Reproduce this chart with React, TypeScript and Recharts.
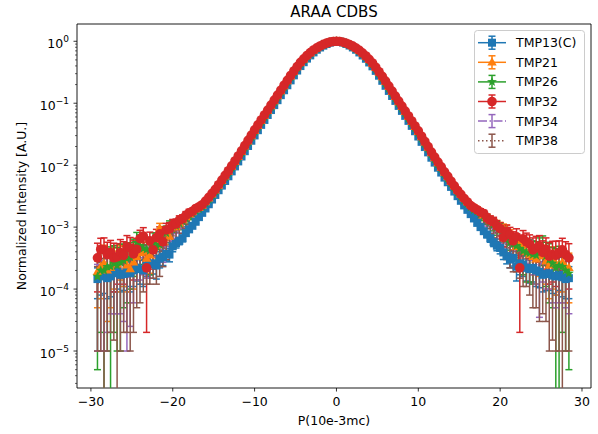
import React from 'react';
import { LineChart, Line, XAxis, YAxis, ErrorBar, ReferenceArea } from 'recharts';

// momentum axis, units of 10e-3 m0c
const xValues = [
  -29.2, -28.8, -28.4, -28.0, -27.6, -27.2, -26.8, -26.4, -26.0, -25.6, -25.2, -24.8, -24.4, -24.0, -23.6,
  -23.2, -22.8, -22.4, -22.0, -21.6, -21.2, -20.8, -20.4, -20.0, -19.6, -19.2, -18.8, -18.4, -18.0,
  -17.6, -17.2, -16.8, -16.4, -16.0, -15.6, -15.2, -14.8, -14.4, -14.0, -13.6, -13.2, -12.8, -12.4, -12.0,
  -11.6, -11.2, -10.8, -10.4, -10.0, -9.6, -9.2, -8.8, -8.4, -8.0, -7.6, -7.2, -6.8, -6.4, -6.0,
  -5.6, -5.2, -4.8, -4.4, -4.0, -3.6, -3.2, -2.8, -2.4, -2.0, -1.6, -1.2, -0.8, -0.4,
  0,
  0.4, 0.8, 1.2, 1.6, 2.0, 2.4, 2.8, 3.2, 3.6, 4.0, 4.4, 4.8, 5.2, 5.6, 6.0,
  6.4, 6.8, 7.2, 7.6, 8.0, 8.4, 8.8, 9.2, 9.6, 10.0, 10.4, 10.8, 11.2, 11.6, 12.0,
  12.4, 12.8, 13.2, 13.6, 14.0, 14.4, 14.8, 15.2, 15.6, 16.0, 16.4, 16.8, 17.2, 17.6,
  18.0, 18.4, 18.8, 19.2, 19.6, 20.0, 20.4, 20.8, 21.2, 21.6, 22.0, 22.4, 22.8, 23.2, 23.6,
  24.0, 24.4, 24.8, 25.2, 25.6, 26.0, 26.4, 26.8, 27.2, 27.6, 28.0, 28.4,
];

const tmp13 = [
  1.45e-4, 1.6e-4, 1.7e-4, 1.5e-4, 1.6e-4, 1.8e-4, 1.9e-4, 1.7e-4, 1.75e-4, 1.95e-4, 1.8e-4, 2.0e-4, 2.2e-4, 2.1e-4, 2.0e-4,
  2.4e-4, 2.5e-4, 2.6e-4, 2.4e-4, 3.1e-4, 3.3e-4, 3.7e-4, 3.6e-4, 4.9e-4, 5.5e-4, 6.0e-4, 6.6e-4, 8.0e-4, 9.2e-4,
  1.05e-3, 1.22e-3, 1.45e-3, 1.7e-3, 2.0e-3, 2.34e-3, 2.79e-3, 3.31e-3, 3.94e-3, 4.68e-3, 5.56e-3, 6.61e-3, 7.94e-3, 9.55e-3, 0.0115,
  0.0138, 0.0168, 0.0204, 0.0248, 0.0302, 0.0367, 0.0447, 0.0537, 0.0646, 0.0776, 0.0933, 0.112, 0.135, 0.162, 0.195,
  0.234, 0.282, 0.337, 0.398, 0.459, 0.525, 0.592, 0.661, 0.73, 0.794, 0.851, 0.902, 0.951, 0.986,
  1.0,
  0.988, 0.955, 0.906, 0.853, 0.795, 0.73, 0.66, 0.59, 0.522, 0.455, 0.394, 0.333, 0.278, 0.23, 0.191,
  0.158, 0.131, 0.109, 0.0905, 0.0752, 0.0625, 0.0519, 0.0431, 0.0353, 0.029, 0.0238, 0.0196, 0.0161, 0.0132, 0.011,
  0.0091, 0.0076, 0.0063, 0.0053, 0.00446, 0.00375, 0.00316, 0.00266, 0.00224, 0.0019, 0.00162, 0.00138, 0.00117, 1.0e-3,
  8.6e-4, 7.6e-4, 6.6e-4, 5.7e-4, 5.0e-4, 4.6e-4, 3.9e-4, 3.4e-4, 3.0e-4, 3.2e-4, 2.3e-4, 2.6e-4, 2.5e-4, 2.2e-4, 2.1e-4,
  2.2e-4, 2.0e-4, 1.9e-4, 1.7e-4, 1.75e-4, 1.8e-4, 1.65e-4, 1.6e-4, 1.7e-4, 1.55e-4, 1.45e-4, 1.5e-4,
];
const tmp21 = [
  1.9e-4, 2.3e-4, 2.6e-4, 2.0e-4, 2.2e-4, 2.8e-4, 2.5e-4, 3.2e-4, 3.0e-4, 2.4e-4, 2.1e-4, 2.7e-4, 3.3e-4, 3.8e-4, 4.0e-4,
  3.1e-4, 3.5e-4, 4.6e-4, 5.0e-4, 9.6e-4, 8.5e-4, 8.0e-4, 7.0e-4, 1.0e-3, 1.0e-3, 1.15e-3, 1.3e-3, 1.45e-3, 1.6e-3,
  1.74e-3, 1.93e-3, 2.05e-3, 2.22e-3, 2.54e-3, 2.91e-3, 3.39e-3, 3.93e-3, 4.67e-3, 5.55e-3, 6.6e-3, 7.85e-3, 9.43e-3, 0.0113, 0.0136,
  0.0164, 0.02, 0.0242, 0.0294, 0.0359, 0.0431, 0.0518, 0.0623, 0.0749, 0.09, 0.108, 0.13, 0.157, 0.189, 0.227,
  0.272, 0.322, 0.381, 0.446, 0.51, 0.578, 0.646, 0.715, 0.777, 0.835, 0.886, 0.929, 0.966, 0.99,
  1.0,
  0.989, 0.963, 0.926, 0.882, 0.829, 0.77, 0.707, 0.637, 0.569, 0.5, 0.437, 0.372, 0.313, 0.264, 0.22,
  0.183, 0.152, 0.126, 0.104, 0.0869, 0.0722, 0.06, 0.0499, 0.0415, 0.0345, 0.0283, 0.0233, 0.0192, 0.0157, 0.013,
  0.0108, 0.0091, 0.0076, 0.0064, 0.0054, 0.0046, 0.0039, 0.00338, 0.0029, 0.00252, 0.0023, 0.0021, 0.00195, 0.0018,
  1.55e-3, 1.45e-3, 1.3e-3, 1.2e-3, 1.1e-3, 1.0e-3, 9.5e-4, 9.0e-4, 7.5e-4, 6.0e-4, 4.8e-4, 5.5e-4, 5.2e-4, 4.0e-4, 3.6e-4,
  3.3e-4, 3.0e-4, 3.5e-4, 3.4e-4, 2.8e-4, 2.4e-4, 2.9e-4, 2.6e-4, 2.5e-4, 2.7e-4, 2.3e-4, 2.2e-4,
];
const tmp26 = [
  1.6e-4, 2.0e-4, 2.0e-4, 2.3e-4, 2.3e-4, 2.6e-4, 2.4e-4, 2.7e-4, 2.9e-4, 3.1e-4, 3.3e-4, 4.0e-4, 5.6e-4, 5.0e-4, 4.5e-4,
  4.4e-4, 4.2e-4, 5.5e-4, 4.8e-4, 5.2e-4, 6.0e-4, 8.0e-4, 1.0e-3, 1.05e-3, 1.05e-3, 1.15e-3, 1.25e-3, 1.4e-3, 1.55e-3,
  1.7e-3, 1.85e-3, 1.97e-3, 2.15e-3, 2.45e-3, 2.8e-3, 3.26e-3, 3.78e-3, 4.5e-3, 5.35e-3, 6.36e-3, 7.56e-3, 9.1e-3, 0.0109, 0.0131,
  0.0158, 0.0193, 0.0234, 0.0284, 0.0346, 0.0416, 0.05, 0.0601, 0.0722, 0.0868, 0.104, 0.126, 0.151, 0.182, 0.219,
  0.263, 0.312, 0.37, 0.434, 0.497, 0.564, 0.632, 0.703, 0.766, 0.826, 0.878, 0.924, 0.962, 0.988,
  1.0,
  0.987, 0.96, 0.92, 0.874, 0.82, 0.76, 0.694, 0.624, 0.555, 0.486, 0.422, 0.358, 0.3, 0.252, 0.21,
  0.174, 0.145, 0.12, 0.0995, 0.0828, 0.0688, 0.0572, 0.0476, 0.0396, 0.0329, 0.027, 0.0222, 0.0183, 0.015, 0.0124,
  0.0103, 0.0087, 0.0072, 0.0061, 0.0051, 0.0043, 0.00365, 0.00315, 0.0027, 0.00237, 0.0021, 0.0019, 0.00178, 0.00162,
  1.5e-3, 1.35e-3, 1.2e-3, 1.1e-3, 9.8e-4, 9.0e-4, 8.0e-4, 6.5e-4, 5.6e-4, 5.3e-4, 5.0e-4, 4.5e-4, 4.1e-4, 3.9e-4, 3.8e-4,
  3.6e-4, 3.5e-4, 4.2e-4, 4.8e-4, 3.4e-4, 3.0e-4, 2.6e-4, 2.2e-4, 2.4e-4, 2.3e-4, 2.0e-4, 1.8e-4,
];
const tmp32 = [
  3.2e-4, 4.4e-4, 4.3e-4, 3.6e-4, 3.9e-4, 3.2e-4, 3.3e-4, 3.9e-4, 3.5e-4, 4.8e-4, 4.6e-4, 3.7e-4, 4.4e-4, 6.5e-4, 7.2e-4,
  2.2e-4, 6.0e-4, 4.3e-4, 6.8e-4, 7.8e-4, 5.8e-4, 9.0e-4, 9.4e-4, 1.1e-3, 1.12e-3, 1.3e-3, 1.36e-3, 1.55e-3, 1.7e-3,
  1.8e-3, 2.0e-3, 2.12e-3, 2.3e-3, 2.63e-3, 3.02e-3, 3.51e-3, 4.07e-3, 4.84e-3, 5.75e-3, 6.84e-3, 8.13e-3, 9.77e-3, 0.0117, 0.0141,
  0.017, 0.0207, 0.0251, 0.0305, 0.0372, 0.0447, 0.0537, 0.0646, 0.0776, 0.0933, 0.112, 0.135, 0.162, 0.195, 0.234,
  0.28, 0.331, 0.391, 0.457, 0.521, 0.589, 0.656, 0.724, 0.785, 0.841, 0.891, 0.933, 0.968, 0.991,
  1.0,
  0.993, 0.966, 0.93, 0.886, 0.834, 0.776, 0.714, 0.646, 0.578, 0.51, 0.446, 0.381, 0.322, 0.272, 0.227,
  0.189, 0.157, 0.13, 0.108, 0.09, 0.0748, 0.0622, 0.0517, 0.043, 0.0358, 0.0293, 0.0241, 0.0199, 0.0163, 0.0135,
  0.0112, 0.0094, 0.0078, 0.0066, 0.0055, 0.00465, 0.0039, 0.00338, 0.0029, 0.00255, 0.00222, 0.00205, 0.0019, 0.00175,
  1.65e-3, 1.4e-3, 1.28e-3, 1.22e-3, 1.05e-3, 9.5e-4, 6.8e-4, 8.6e-4, 7.6e-4, 6.0e-4, 7.0e-4, 2.2e-4, 6.5e-4, 5.8e-4, 5.3e-4,
  4.3e-4, 4.6e-4, 5.0e-4, 3.9e-4, 4.4e-4, 3.4e-4, 3.6e-4, 3.5e-4, 3.8e-4, 4.3e-4, 3.6e-4, 3.2e-4,
];
const tmp34 = [
  1.3e-4, 1.5e-4, 1.6e-4, 1.8e-4, 1.9e-4, 2.0e-4, 2.1e-4, 1.9e-4, 1.7e-4, 1.6e-4, 1.5e-4, 2.2e-4, 2.9e-4, 3.1e-4, 3.3e-4,
  3.0e-4, 3.1e-4, 4.0e-4, 5.0e-4, 4.6e-4, 4.2e-4, 5.5e-4, 6.6e-4, 7.5e-4, 8.2e-4, 9.5e-4, 1.1e-3, 1.15e-3, 1.25e-3,
  1.62e-3, 1.8e-3, 1.91e-3, 2.07e-3, 2.37e-3, 2.72e-3, 3.16e-3, 3.66e-3, 4.36e-3, 5.18e-3, 6.16e-3, 7.32e-3, 8.8e-3, 0.0105, 0.0127,
  0.0153, 0.0186, 0.0226, 0.0275, 0.0335, 0.0402, 0.0483, 0.0581, 0.0698, 0.084, 0.101, 0.122, 0.146, 0.176, 0.212,
  0.255, 0.303, 0.36, 0.424, 0.487, 0.555, 0.624, 0.696, 0.76, 0.821, 0.874, 0.921, 0.96, 0.987,
  1.0,
  0.986, 0.958, 0.917, 0.87, 0.815, 0.753, 0.687, 0.616, 0.546, 0.477, 0.413, 0.35, 0.292, 0.245, 0.204,
  0.17, 0.141, 0.117, 0.0972, 0.081, 0.0673, 0.056, 0.0465, 0.0387, 0.0322, 0.0264, 0.0217, 0.0179, 0.0147, 0.0122,
  0.0101, 0.0085, 0.007, 0.0059, 0.005, 0.0042, 0.00355, 0.00305, 0.0026, 0.0023, 0.002, 0.00185, 0.0017, 0.00155,
  1.3e-3, 1.2e-3, 1.1e-3, 9.6e-4, 8.2e-4, 7.0e-4, 6.0e-4, 5.2e-4, 4.6e-4, 5.0e-4, 5.6e-4, 4.4e-4, 3.6e-4, 4.0e-4, 4.5e-4,
  3.2e-4, 2.8e-4, 2.3e-4, 2.9e-4, 2.7e-4, 2.5e-4, 2.2e-4, 2.0e-4, 2.2e-4, 2.1e-4, 2.0e-4, 1.9e-4,
];
const tmp38 = [
  1.2e-4, 1.4e-4, 1.5e-4, 1.7e-4, 2.0e-4, 1.9e-4, 1.8e-4, 2.0e-4, 2.2e-4, 2.1e-4, 1.9e-4, 2.3e-4, 2.5e-4, 2.8e-4, 3.0e-4,
  3.2e-4, 3.4e-4, 3.6e-4, 3.2e-4, 3.8e-4, 4.4e-4, 5.0e-4, 5.5e-4, 6.8e-4, 8.0e-4, 9.0e-4, 1.0e-3, 1.15e-3, 1.3e-3,
  1.66e-3, 1.84e-3, 1.95e-3, 2.12e-3, 2.42e-3, 2.78e-3, 3.23e-3, 3.74e-3, 4.45e-3, 5.29e-3, 6.29e-3, 7.48e-3, 8.99e-3, 0.0108, 0.013,
  0.0156, 0.019, 0.0231, 0.0281, 0.0342, 0.0411, 0.0494, 0.0594, 0.0714, 0.0858, 0.103, 0.124, 0.149, 0.179, 0.215,
  0.259, 0.307, 0.365, 0.429, 0.492, 0.559, 0.628, 0.699, 0.763, 0.823, 0.876, 0.922, 0.961, 0.987,
  1.0,
  0.987, 0.959, 0.918, 0.872, 0.817, 0.756, 0.69, 0.62, 0.55, 0.48, 0.416, 0.353, 0.295, 0.248, 0.206,
  0.172, 0.143, 0.118, 0.0982, 0.0818, 0.068, 0.0566, 0.047, 0.0391, 0.0326, 0.0267, 0.0219, 0.0181, 0.0148, 0.0123,
  0.0102, 0.0086, 0.0071, 0.006, 0.005, 0.0042, 0.0036, 0.0031, 0.00265, 0.00232, 0.00205, 0.0019, 0.00172, 0.0016,
  1.35e-3, 1.15e-3, 1.0e-3, 8.8e-4, 7.6e-4, 6.8e-4, 6.0e-4, 5.0e-4, 4.3e-4, 4.1e-4, 3.9e-4, 3.6e-4, 3.3e-4, 3.1e-4, 2.9e-4,
  2.7e-4, 2.5e-4, 2.4e-4, 2.6e-4, 2.3e-4, 2.0e-4, 1.9e-4, 1.8e-4, 1.7e-4, 1.6e-4, 1.6e-4, 1.7e-4,
];

// uncertainties in units of 1e-4; none visible between |x| = 15.2 and 0
const centreErr = [
  0, 0, 0, 0, 0, 0, 0, 0, 0, 0, 0, 0, 0, 0, 0, 0, 0, 0, 0,
  0, 0, 0, 0, 0, 0, 0, 0, 0, 0, 0, 0, 0, 0, 0, 0, 0, 0, 0,
];
const tmp13Err = [
  0.75, 0.8, 0.85, 0.8, 0.85, 0.9, 0.9, 0.8, 0.8, 0.85, 0.9, 0.9, 0.85, 0.9, 0.9,
  0.8, 0.8, 0.85, 0.95, 0.9, 0.9, 0.85, 0.85, 0.9, 0.9, 0.8, 0.8, 0.85, 0.85,
  0.7, 0.7, 0.65, 0.6, 0.55, 0.5, ...centreErr, 0, ...centreErr, 0.5, 0.55, 0.6, 0.65, 0.7, 0.75,
  0.8, 0.85, 0.9, 0.85, 0.85, 0.9, 0.9, 0.85, 0.8, 0.85, 0.95, 0.9, 0.9, 0.85, 0.85,
  0.9, 0.9, 0.85, 0.8, 0.8, 0.85, 0.8, 0.8, 0.75, 0.8, 0.75, 0.8,
];
const tmp21Err = [
  1.4, 1.6, 2.5, 1.7, 1.7, 1.8, 1.6, 1.8, 1.9, 1.5, 1.5, 1.7, 1.9, 1.8, 1.7,
  1.6, 1.7, 1.8, 1.8, 1.9, 1.7, 1.9, 1.8, 1.6, 1.7, 1.8, 1.7, 1.6, 1.6,
  1.5, 1.5, 1.4, 1.3, 1.2, 1.1, ...centreErr, 0, ...centreErr, 1.1, 1.2, 1.3, 1.4, 1.5, 1.6,
  1.7, 1.6, 1.8, 1.7, 1.8, 1.9, 1.7, 1.8, 1.6, 1.7, 1.8, 1.7, 1.6, 1.8, 1.7,
  1.6, 1.8, 1.9, 1.7, 1.6, 1.7, 1.9, 1.8, 1.6, 1.8, 1.7, 1.6,
];
const tmp26Err = [
  1.55, 1.8, 2.1, 2.2, 2.5, 2.4, 2.3, 2.6, 2.4, 2.5, 2.3, 2.4, 2.6, 2.5, 2.3,
  2.4, 2.5, 2.6, 2.4, 2.3, 2.5, 2.4, 2.6, 2.5, 2.3, 2.4, 2.3, 2.4, 2.3,
  2.1, 2.0, 1.9, 1.8, 1.6, 1.4, ...centreErr, 0, ...centreErr, 1.4, 1.6, 1.8, 1.9, 2.0, 2.1,
  2.3, 2.4, 2.5, 2.3, 2.4, 2.6, 2.4, 2.3, 2.5, 2.4, 2.5, 2.3, 2.4, 2.6, 2.5,
  2.4, 2.3, 2.5, 2.4, 2.3, 2.4, 2.1, 2.3, 2.5, 2.1, 1.9, 1.75,
];
const tmp32Err = [
  2.3, 2.2, 2.4, 2.1, 2.2, 2.3, 2.1, 2.4, 2.3, 2.5, 2.2, 2.3, 2.2, 2.4, 2.6,
  2.0, 2.3, 2.2, 2.4, 2.3, 2.2, 2.5, 2.4, 2.3, 2.3, 2.2, 2.2, 2.3, 2.4,
  2.1, 2.0, 2.2, 2.0, 1.8, 1.6, ...centreErr, 0, ...centreErr, 1.6, 1.8, 2.0, 2.1, 2.2, 2.3,
  2.2, 2.3, 2.4, 2.2, 2.2, 2.3, 2.0, 2.2, 2.3, 2.4, 2.4, 2.0, 2.3, 2.2, 2.2,
  2.4, 2.5, 2.3, 2.1, 2.3, 2.2, 2.3, 2.4, 2.2, 2.3, 2.2, 2.2,
];
const tmp34Err = [
  1.2, 1.4, 1.5, 1.6, 1.5, 1.6, 1.7, 1.5, 1.4, 1.5, 1.25, 1.6, 1.5, 1.7, 1.6,
  1.5, 1.6, 1.5, 1.7, 1.6, 1.5, 1.6, 1.7, 1.5, 1.6, 1.5, 1.6, 1.5, 1.5,
  1.4, 1.3, 1.3, 1.2, 1.1, 1.0, ...centreErr, 0, ...centreErr, 1.0, 1.1, 1.2, 1.3, 1.3, 1.4,
  1.5, 1.6, 1.5, 1.6, 1.7, 1.5, 1.6, 1.5, 1.4, 1.6, 1.5, 1.6, 1.5, 1.4, 1.6,
  1.5, 1.6, 1.95, 1.6, 1.7, 1.5, 1.6, 1.5, 1.6, 1.5, 1.5, 1.5,
];
const tmp38Err = [
  1.1, 1.3, 1.6, 1.6, 1.8, 1.75, 1.78, 1.9, 2.0, 1.9, 1.8, 2.1, 2.0, 2.2, 2.1,
  2.0, 2.2, 2.1, 2.0, 2.2, 2.1, 2.0, 2.2, 2.1, 2.0, 2.2, 2.1, 2.0, 2.1,
  1.9, 1.8, 1.7, 1.6, 1.5, 1.3, ...centreErr, 0, ...centreErr, 1.3, 1.5, 1.6, 1.7, 1.8, 1.9,
  2.1, 2.0, 2.2, 2.1, 2.0, 2.2, 2.1, 2.0, 2.1, 2.2, 2.0, 2.1, 2.2, 2.0, 2.1,
  2.2, 2.0, 2.1, 2.2, 2.0, 1.9, 1.75, 1.7, 1.6, 1.65, 1.5, 1.6,
];

const seriesNames = ['TMP13(C)', 'TMP21', 'TMP26', 'TMP32', 'TMP34', 'TMP38'];
const seriesColors = ['#1f77b4', '#ff7f0e', '#2ca02c', '#d62728', '#9467bd', '#8c564b'];
const seriesMarkers = ['square', 'triangle', 'star', 'circle', 'none', 'none'];
const seriesDash = [undefined, undefined, undefined, undefined, '9 2.5 1.5 2.5', '1.5 2.5'];
const seriesValues = [tmp13, tmp21, tmp26, tmp32, tmp34, tmp38];
const seriesErrors = [tmp13Err, tmp21Err, tmp26Err, tmp32Err, tmp34Err, tmp38Err];

const xTicks = [-30, -20, -10, 0, 10, 20, 30];
const yMajorTicks = [1e-5, 1e-4, 1e-3, 1e-2, 1e-1, 1];
const yMinorSteps = [2, 3, 4, 5, 6, 7, 8, 9];

const X_DOMAIN: [number, number] = [-31.7, 31.1];
const Y_MIN = 2.53e-6;
const Y_MAX = 1.9;

const W = 598;
const H = 434;
const margin = { top: 24, right: 7, bottom: 16, left: 17 };
const Y_AXIS_W = 60;
const X_AXIS_H = 30;
const PLOT_LEFT = margin.left + Y_AXIS_W;
const PLOT_TOP = margin.top;
const PLOT_W = W - PLOT_LEFT - margin.right;
const PLOT_H = H - margin.top - margin.bottom - X_AXIS_H;
const FONT = 'DejaVu Sans, sans-serif';

const yMinorTicks = [-6, -5, -4, -3, -2, -1]
  .flatMap((p) => yMinorSteps.map((m) => m * Math.pow(10, p)))
  .filter((t) => t > Y_MIN && t < Y_MAX);
const yTicks = [...yMinorTicks, ...yMajorTicks].sort((a, b) => a - b);

const data = xValues.map((x, i) => {
  const row: Record<string, any> = { x };
  seriesValues.forEach((vals, s) => {
    const v = vals[i];
    const e = seriesErrors[s][i] * 1e-4;
    row['s' + s] = v;
    // log axis: a bar reaching below zero is cut just above zero, then clipped to the plot area
    row['e' + s] = e > 0 ? [Math.min(e, v - 1e-7), e] : null;
  });
  return row;
});

const Marker = ({ kind, cx, cy, color }: { kind: string; cx: number; cy: number; color: string }) => {
  if (kind === 'square') {
    return <rect x={cx - 4} y={cy - 4} width={8} height={8} fill={color} />;
  }
  if (kind === 'triangle') {
    const r = 5;
    return (
      <polygon
        points={`${cx},${cy - r} ${cx - r * 0.95},${cy + r * 0.62} ${cx + r * 0.95},${cy + r * 0.62}`}
        fill={color}
      />
    );
  }
  if (kind === 'star') {
    const pts: string[] = [];
    for (let k = 0; k < 10; k++) {
      const r = k % 2 === 0 ? 5.2 : 2.2;
      const a = (Math.PI / 5) * k - Math.PI / 2;
      pts.push(`${cx + r * Math.cos(a)},${cy + r * Math.sin(a)}`);
    }
    return <polygon points={pts.join(' ')} fill={color} />;
  }
  if (kind === 'circle') {
    return <circle cx={cx} cy={cy} r={4.8} fill={color} />;
  }
  return null;
};

const makeDot = (kind: string, color: string) => (props: any) => {
  const { cx, cy, index } = props;
  if (kind === 'none' || cx == null || cy == null) return <g key={`d-${index}`} />;
  return (
    <g key={`d-${index}`}>
      <Marker kind={kind} cx={cx} cy={cy} color={color} />
    </g>
  );
};

const isMajor = (v: number) => yMajorTicks.some((t) => Math.abs(v - t) < t * 1e-6);

const YTick = (props: any) => {
  const { y, payload } = props;
  const v = payload.value;
  if (!isMajor(v)) {
    return <line x1={PLOT_LEFT - 2} x2={PLOT_LEFT} y1={y} y2={y} stroke="#000" strokeWidth={0.6} />;
  }
  const exp = Math.round(Math.log10(v));
  const expText = exp < 0 ? `\u2212${-exp}` : `${exp}`;
  return (
    <g>
      <line x1={PLOT_LEFT - 3.5} x2={PLOT_LEFT} y1={y} y2={y} stroke="#000" strokeWidth={0.8} />
      <text x={PLOT_LEFT - 8} y={y + 6.5} textAnchor="end" fontSize={12.5} fontFamily={FONT} fill="#000">
        <tspan>10</tspan>
        <tspan dy={-6} fontSize={9}>
          {expText}
        </tspan>
      </text>
    </g>
  );
};

const formatX = (v: number) => (v < 0 ? `\u2212${-v}` : `${v}`);

const LegendBox = () => {
  const top = 42.7;
  const step = 19.6;
  return (
    <svg width={W} height={H} style={{ position: 'absolute', left: 0, top: 0, pointerEvents: 'none' }}>
      <rect x={474.5} y={30.5} width={110} height={123} rx={3} fill="#fff" fillOpacity={0.8} stroke="#cccccc" />
      {seriesNames.map((name, s) => {
        const y = top + s * step;
        const c = seriesColors[s];
        return (
          <g key={name}>
            <line x1={478} x2={506} y1={y} y2={y} stroke={c} strokeWidth={1.5} strokeDasharray={seriesDash[s]} />
            <line x1={492} x2={492} y1={y - 6.5} y2={y + 6.5} stroke={c} strokeWidth={1.5} />
            <line x1={488.5} x2={495.5} y1={y - 6.5} y2={y - 6.5} stroke={c} strokeWidth={1.5} />
            <line x1={488.5} x2={495.5} y1={y + 6.5} y2={y + 6.5} stroke={c} strokeWidth={1.5} />
            <Marker kind={seriesMarkers[s]} cx={492} cy={y} color={c} />
            <text x={516} y={y + 4.5} fontSize={12.5} fontFamily={FONT} fill="#000">
              {name}
            </text>
          </g>
        );
      })}
    </svg>
  );
};

const App: React.FC = () => {
  return (
    <div style={{ position: 'absolute', left: 0, top: 0, width: W, height: H, background: '#fff' }}>
      <style>{`.recharts-errorBars, .recharts-errorBar { clip-path: url(#cdbs-plot-clip); }`}</style>
      <svg width={0} height={0} style={{ position: 'absolute' }}>
        <defs>
          <clipPath id="cdbs-plot-clip" clipPathUnits="userSpaceOnUse">
            <rect x={PLOT_LEFT} y={PLOT_TOP} width={PLOT_W} height={PLOT_H} />
          </clipPath>
        </defs>
      </svg>
      <LineChart width={W} height={H} data={data} margin={margin}>
        <XAxis
          type="number"
          dataKey="x"
          domain={X_DOMAIN}
          allowDataOverflow
          ticks={xTicks}
          interval={0}
          height={X_AXIS_H}
          tickFormatter={formatX}
          tickSize={3.5}
          tickMargin={5.5}
          axisLine={false}
          tickLine={{ stroke: '#000', strokeWidth: 0.8 }}
          tick={{ fontSize: 12.5, fill: '#000', fontFamily: FONT }}
        />
        <YAxis
          scale="log"
          type="number"
          domain={[Y_MIN, Y_MAX]}
          allowDataOverflow
          ticks={yTicks}
          interval={0}
          width={Y_AXIS_W}
          axisLine={false}
          tickLine={false}
          tick={(p: any) => <YTick {...p} />}
        />
        <ReferenceArea
          x1={X_DOMAIN[0]}
          x2={X_DOMAIN[1]}
          y1={Y_MIN}
          y2={Y_MAX}
          fill="none"
          stroke="#000"
          strokeWidth={0.9}
          ifOverflow="visible"
        />
        {seriesNames.map((name, s) => (
          <Line
            key={name}
            type="linear"
            dataKey={'s' + s}
            name={name}
            stroke={seriesColors[s]}
            strokeWidth={1.5}
            strokeDasharray={seriesDash[s]}
            dot={makeDot(seriesMarkers[s], seriesColors[s])}
            activeDot={false}
            isAnimationActive={false}
          >
            <ErrorBar dataKey={'e' + s} direction="y" width={3.5} stroke={seriesColors[s]} strokeWidth={1.5} />
          </Line>
        ))}
      </LineChart>
      <LegendBox />
      <svg width={W} height={H} style={{ position: 'absolute', left: 0, top: 0, pointerEvents: 'none' }}>
        <text x={334} y={16.5} textAnchor="middle" fontSize={15} fontFamily={FONT} fill="#000">
          ARAA CDBS
        </text>
        <text x={334} y={425} textAnchor="middle" fontSize={12.5} fontFamily={FONT} fill="#000">
          P(10e-3mc)
        </text>
        <text
          x={26}
          y={206}
          textAnchor="middle"
          fontSize={12.5}
          fontFamily={FONT}
          fill="#000"
          transform="rotate(-90 26 206)"
        >
          Normalized Intensity [A.U.]
        </text>
      </svg>
    </div>
  );
};

export default App;
